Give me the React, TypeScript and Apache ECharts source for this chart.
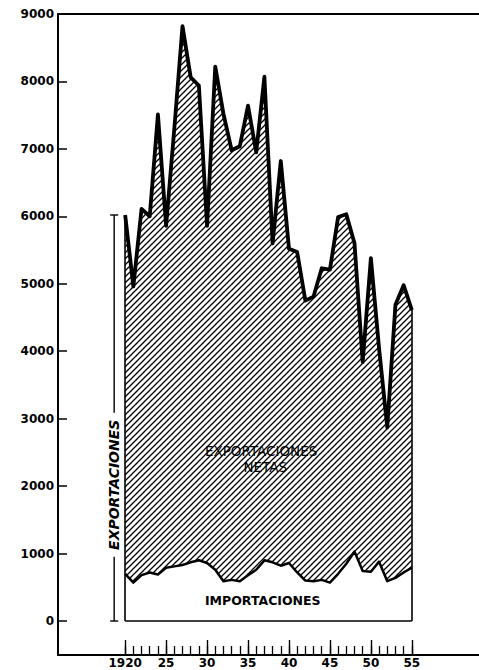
import React, { useEffect, useRef } from "react";
import * as echarts from "echarts";

// ---- data (millones) ----
const years = [
  1920, 1921, 1922, 1923, 1924, 1925, 1926, 1927, 1928, 1929,
  1930, 1931, 1932, 1933, 1934, 1935, 1936, 1937, 1938, 1939,
  1940, 1941, 1942, 1943, 1944, 1945, 1946, 1947, 1948, 1949,
  1950, 1951, 1952, 1953, 1954, 1955,
];
const exportsVals = [
  6020, 4960, 6110, 6000, 7510, 5860, 7300, 8820, 8060, 7940,
  5860, 8220, 7520, 6980, 7040, 7640, 6950, 8070, 5600, 6820,
  5520, 5470, 4750, 4810, 5230, 5210, 5990, 6030, 5600, 3840,
  5380, 4040, 2870, 4690, 4980, 4610,
];
const importsVals = [
  700, 570, 680, 720, 690, 790, 810, 830, 870, 900,
  860, 760, 590, 610, 590, 680, 760, 900, 870, 820,
  860, 720, 600, 590, 610, 570, 700, 850, 1030, 740,
  730, 880, 590, 640, 720, 790,
];
const yTickValues = [0, 1000, 2000, 3000, 4000, 5000, 6000, 7000, 8000, 9000];
const xLabelYears = [1920, 1925, 1930, 1935, 1940, 1945, 1950, 1955];
const xLabelTexts = ["1920", "25", "30", "35", "40", "45", "50", "55"];

const X_MIN = 1911.8;
const X_MAX = 1963.2;
const Y_MIN = -504;
const Y_MAX = 9000;

const FONT = '"DejaVu Sans", "Noto Sans", sans-serif';

export default function App() {
  const ref = useRef<HTMLDivElement>(null);

  useEffect(() => {
    if (!ref.current) return;
    const chart = echarts.init(ref.current, undefined, { renderer: "svg" });

    const tile = document.createElement("canvas");
    tile.width = 6;
    tile.height = 6;
    const ctx = tile.getContext("2d")!;
    ctx.strokeStyle = "#000";
    ctx.lineWidth = 1.25;
    for (const k of [-1, 0, 1]) {
      ctx.beginPath();
      ctx.moveTo(k * 6 - 1, 7);
      ctx.lineTo(k * 6 + 7, -1);
      ctx.stroke();
    }
    const hatch: any = { image: tile, repeat: "repeat", imageWidth: 6, imageHeight: 6 };

    const last = years.length - 1;
    const importsData = years.map((y, i) => [y, importsVals[i]]);
    const exportsData = years.map((y, i) => [y, exportsVals[i]]);

    const blackLine = { color: "#000", width: 2 };

    chart.setOption({
      animation: false,
      backgroundColor: "#fff",
      grid: {
        left: 58,
        right: 0,
        top: 14,
        bottom: 15,
        containLabel: false,
        outerBoundsMode: "none",
      },
      xAxis: [
        {
          type: "value",
          min: X_MIN,
          max: X_MAX,
          position: "bottom",
          axisLine: { show: true, onZero: false, lineStyle: blackLine },
          axisTick: {
            show: true,
            inside: true,
            length: 9,
            customValues: years,
            lineStyle: { color: "#000", width: 1.3 },
          },
          axisLabel: {
            show: true,
            customValues: xLabelYears,
            formatter: (v: number) => {
              const idx = xLabelYears.indexOf(Math.round(v));
              return idx >= 0 ? xLabelTexts[idx] : "";
            },
            color: "#000",
            fontWeight: "bold",
            fontSize: 12,
            fontFamily: FONT,
            margin: 2,
          },
          splitLine: { show: false },
        },
        {
          type: "value",
          min: X_MIN,
          max: X_MAX,
          position: "bottom",
          axisLine: { show: false, onZero: false },
          axisTick: {
            show: true,
            inside: true,
            length: 15,
            customValues: xLabelYears,
            lineStyle: { color: "#000", width: 1.4 },
          },
          axisLabel: { show: false },
          splitLine: { show: false },
        },
        {
          type: "value",
          min: X_MIN,
          max: X_MAX,
          position: "top",
          axisLine: { show: true, onZero: false, lineStyle: blackLine },
          axisTick: { show: false },
          axisLabel: { show: false },
          splitLine: { show: false },
        },
      ],
      yAxis: {
        type: "value",
        min: Y_MIN,
        max: Y_MAX,
        position: "left",
        axisLine: { show: true, onZero: false, lineStyle: blackLine },
        axisTick: {
          show: true,
          inside: true,
          length: 9,
          customValues: yTickValues,
          lineStyle: { color: "#000", width: 1.5 },
        },
        axisLabel: {
          show: true,
          customValues: yTickValues,
          formatter: (v: number) => String(Math.round(v)),
          color: "#000",
          fontWeight: "bold",
          fontSize: 12,
          fontFamily: FONT,
          margin: 4,
        },
        splitLine: { show: false },
      },
      series: [
        {
          type: "line",
          name: "Exportaciones",
          data: exportsData,
          symbol: "none",
          z: 2,
          lineStyle: { color: "#000", width: 3.8, join: "round" },
          areaStyle: { color: hatch, opacity: 1, origin: 0 },
        },
        {
          type: "line",
          name: "Importaciones",
          data: importsData,
          symbol: "none",
          z: 4,
          lineStyle: { color: "#000", width: 2.5, join: "round" },
          areaStyle: { color: "#fff", opacity: 1, origin: 0 },
          markLine: {
            silent: true,
            symbol: ["none", "none"],
            label: { show: false },
            lineStyle: { color: "#000", width: 1.6, type: "solid" },
            data: [
              [{ coord: [years[0], 0] }, { coord: [years[0], exportsVals[0]] }],
              [{ coord: [years[last], 0] }, { coord: [years[last], exportsVals[last]] }],
              [{ coord: [years[0], 0] }, { coord: [years[last], 0] }],
            ],
          },
        },
      ],
    });

    const px = (x: number, y: number) =>
      chart.convertToPixel({ gridIndex: 0 } as any, [x, y]) as number[];

    const p0 = px(years[0], 0);
    const pTop = px(years[0], exportsVals[0]);
    const bx = p0[0] - 11;
    const tc = px(years[0], 2020);
    const gapHalf = 72;
    const netPos1 = px(1936.6, 2520);
    const netPos2 = px(1937.1, 2290);
    const impPos = px(1936.8, 300);
    const lineStyle = { stroke: "#000", lineWidth: 1.4 };

    chart.setOption({
      graphic: [
        { type: "line", shape: { x1: bx, y1: pTop[1], x2: bx, y2: tc[1] - gapHalf }, style: lineStyle },
        { type: "line", shape: { x1: bx, y1: tc[1] + gapHalf, x2: bx, y2: p0[1] }, style: lineStyle },
        { type: "line", shape: { x1: bx - 4, y1: pTop[1], x2: bx + 4, y2: pTop[1] }, style: lineStyle },
        { type: "line", shape: { x1: bx - 4, y1: p0[1], x2: bx + 4, y2: p0[1] }, style: lineStyle },
        {
          type: "text",
          x: bx,
          y: tc[1],
          rotation: Math.PI / 2,
          style: {
            text: "EXPORTACIONES",
            fill: "#000",
            fontSize: 14,
            fontWeight: "bold",
            fontStyle: "italic",
            fontFamily: FONT,
            align: "center",
            verticalAlign: "middle",
          },
        },
        {
          type: "text",
          x: netPos1[0],
          y: netPos1[1],
          style: {
            text: "EXPORTACIONES",
            fill: "#000",
            fontSize: 13.5,
            fontFamily: FONT,
            align: "center",
            verticalAlign: "middle",
          },
        },
        {
          type: "text",
          x: netPos2[0],
          y: netPos2[1],
          style: {
            text: "NETAS",
            fill: "#000",
            fontSize: 13.5,
            fontFamily: FONT,
            align: "center",
            verticalAlign: "middle",
          },
        },
        {
          type: "text",
          z: 100,
          x: impPos[0],
          y: impPos[1],
          style: {
            text: "IMPORTACIONES",
            fill: "#000",
            fontSize: 12.5,
            fontWeight: "bold",
            fontFamily: FONT,
            align: "center",
            verticalAlign: "middle",
          },
        },
      ],
    });

    return () => chart.dispose();
  }, []);

  return (
    <div
      ref={ref}
      style={{ position: "absolute", left: 0, top: 0, width: 479, height: 670 }}
    />
  );
}
